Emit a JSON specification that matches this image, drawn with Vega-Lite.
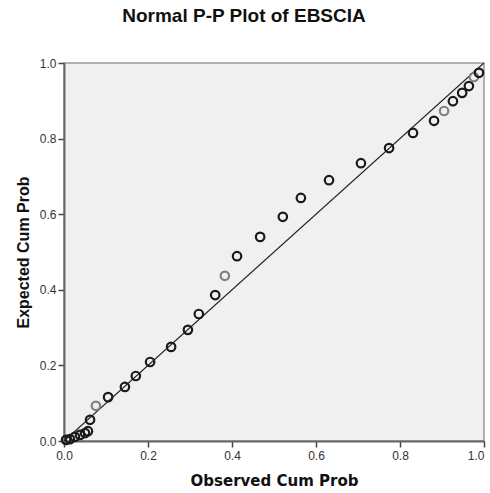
{
  "$schema": "https://vega.github.io/schema/vega-lite/v6.json",
  "width": 420,
  "height": 378,
  "autosize": {"type": "none"},
  "padding": {"left": 64, "top": 63, "right": 6, "bottom": 52},
  "background": "white",
  "title": {
    "text": "Normal P-P Plot of EBSCIA",
    "font": "Liberation Sans",
    "fontSize": 19,
    "fontWeight": "bold",
    "color": "#111",
    "anchor": "middle",
    "dx": -30,
    "offset": 31
  },
  "config": {
    "view": {"fill": "#F0F0F0", "stroke": "#999", "strokeWidth": 1.5},
    "axis": {
      "labelFont": "Liberation Sans",
      "labelFontSize": 12,
      "labelColor": "#333",
      "labelFlush": false,
      "labelOverlap": false,
      "titleFontWeight": "bold",
      "titleColor": "#111",
      "domainColor": "#666",
      "domainWidth": 2,
      "tickColor": "#444",
      "tickWidth": 1.5,
      "tickSize": 6,
      "grid": false
    }
  },
  "data": {
    "values": [
      {"obs": 0.005, "exp": 0.003, "dark": "y"},
      {"obs": 0.014, "exp": 0.005, "dark": "y"},
      {"obs": 0.026, "exp": 0.011, "dark": "y"},
      {"obs": 0.038, "exp": 0.016, "dark": "y"},
      {"obs": 0.05, "exp": 0.021, "dark": "y"},
      {"obs": 0.057, "exp": 0.026, "dark": "y"},
      {"obs": 0.062, "exp": 0.056, "dark": "y"},
      {"obs": 0.076, "exp": 0.093, "dark": "n"},
      {"obs": 0.105, "exp": 0.116, "dark": "y"},
      {"obs": 0.145, "exp": 0.143, "dark": "y"},
      {"obs": 0.171, "exp": 0.172, "dark": "y"},
      {"obs": 0.205, "exp": 0.209, "dark": "y"},
      {"obs": 0.255, "exp": 0.249, "dark": "y"},
      {"obs": 0.295, "exp": 0.294, "dark": "y"},
      {"obs": 0.321, "exp": 0.336, "dark": "y"},
      {"obs": 0.36, "exp": 0.386, "dark": "y"},
      {"obs": 0.383, "exp": 0.437, "dark": "n"},
      {"obs": 0.412, "exp": 0.489, "dark": "y"},
      {"obs": 0.467, "exp": 0.54, "dark": "y"},
      {"obs": 0.521, "exp": 0.593, "dark": "y"},
      {"obs": 0.564, "exp": 0.643, "dark": "y"},
      {"obs": 0.631, "exp": 0.69, "dark": "y"},
      {"obs": 0.707, "exp": 0.735, "dark": "y"},
      {"obs": 0.774, "exp": 0.775, "dark": "y"},
      {"obs": 0.831, "exp": 0.815, "dark": "y"},
      {"obs": 0.881, "exp": 0.847, "dark": "y"},
      {"obs": 0.905, "exp": 0.873, "dark": "n"},
      {"obs": 0.926, "exp": 0.899, "dark": "y"},
      {"obs": 0.948, "exp": 0.921, "dark": "y"},
      {"obs": 0.964, "exp": 0.939, "dark": "y"},
      {"obs": 0.976, "exp": 0.963, "dark": "n"},
      {"obs": 0.988, "exp": 0.974, "dark": "y"}
    ]
  },
  "layer": [
    {
      "data": {"values": [{"a": 0}, {"a": 1}]},
      "mark": {"type": "line", "color": "#222", "strokeWidth": 1.3, "clip": true},
      "encoding": {
        "x": {"field": "a", "type": "quantitative", "scale": {"domain": [0, 1], "nice": false}},
        "y": {"field": "a", "type": "quantitative", "scale": {"domain": [0, 1], "nice": false}}
      }
    },
    {
      "mark": {"type": "point", "shape": "circle", "filled": false, "size": 72, "strokeWidth": 2.2, "opacity": 1},
      "encoding": {
        "x": {
          "field": "obs",
          "type": "quantitative",
          "scale": {"domain": [0, 1], "nice": false},
          "axis": {"title": "Observed Cum Prob", "titleFont": "DejaVu Sans", "titleFontSize": 15, "values": [0, 0.2, 0.4, 0.6, 0.8, 1], "format": ".1f", "titlePadding": 12, "labelPadding": 3, "labelAlign": {"expr": "datum.value >= 1 ? 'right' : 'center'"}}
        },
        "y": {
          "field": "exp",
          "type": "quantitative",
          "scale": {"domain": [0, 1], "nice": false},
          "axis": {"title": "Expected Cum Prob", "titleFont": "Liberation Sans", "titleFontSize": 16, "values": [0, 0.2, 0.4, 0.6, 0.8, 1], "format": ".1f", "titlePadding": 8, "labelPadding": 2}
        },
        "color": {
          "field": "dark",
          "type": "nominal",
          "scale": {"domain": ["y", "n"], "range": ["#1a1a1a", "#808080"]},
          "legend": null
        }
      }
    }
  ]
}
